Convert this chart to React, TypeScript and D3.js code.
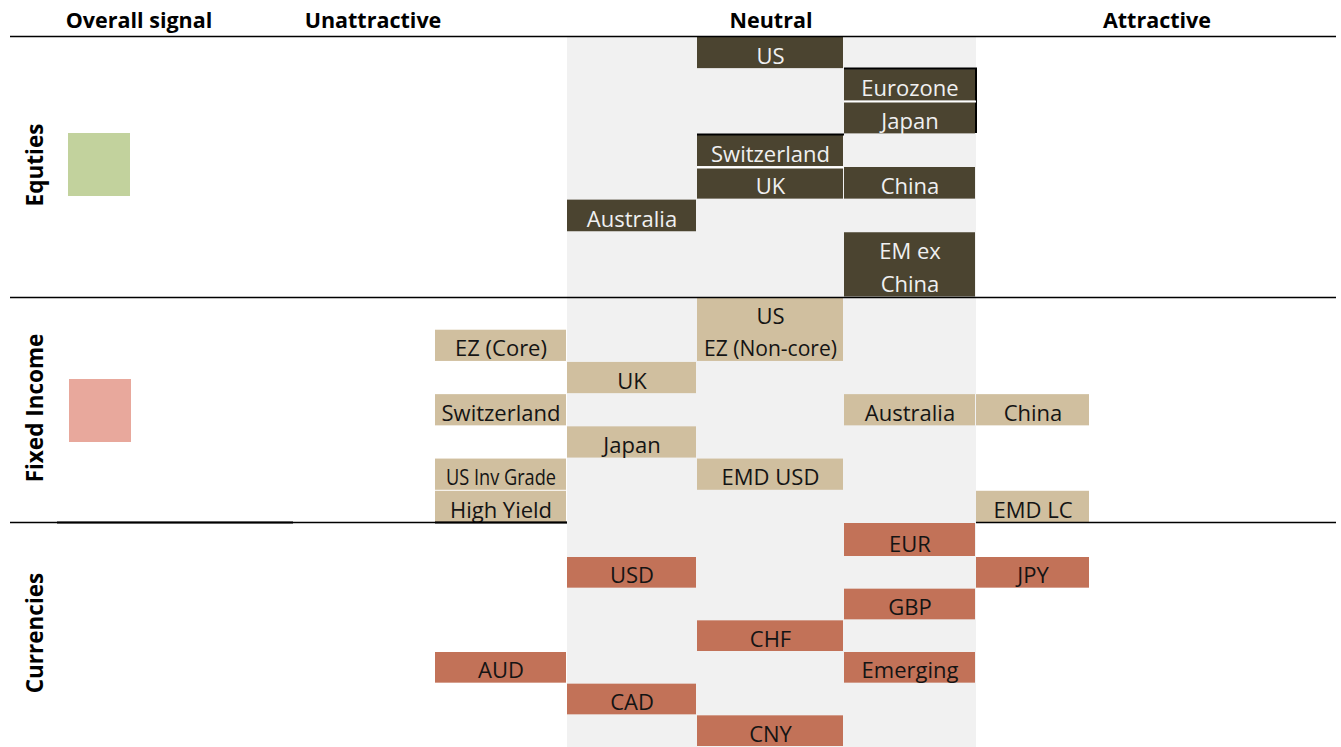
import React from "react";
import * as d3 from "d3";

// ---------- DATA ----------
const headers = ["Overall signal", "Unattractive", "Neutral", "Attractive"];
const sectionNames = ["Equties", "Fixed Income", "Currencies"];
const overallSignal = ["positive", "negative", "none"];

const equityLabels = ["US", "Eurozone", "Japan", "Switzerland", "UK", "China", "Australia", "EM ex|China"];
const equityCols = [2, 3, 3, 2, 2, 3, 1, 3];
const equityRows = [0, 1, 2, 3, 4, 4, 5, 6];
const equitySpans = [1, 1, 1, 1, 1, 1, 1, 2];

const fiLabels = ["US|EZ (Non-core)", "EZ (Core)", "UK", "Switzerland", "Australia", "China", "Japan", "US Inv Grade", "EMD USD", "High Yield", "EMD LC"];
const fiCols = [2, 0, 1, 0, 3, 4, 1, 0, 2, 0, 4];
const fiRows = [0, 1, 2, 3, 3, 3, 4, 5, 5, 6, 6];
const fiSpans = [2, 1, 1, 1, 1, 1, 1, 1, 1, 1, 1];

const fxLabels = ["EUR", "USD", "JPY", "GBP", "CHF", "AUD", "Emerging", "CAD", "CNY"];
const fxCols = [3, 1, 4, 3, 2, 0, 3, 1, 2];
const fxRows = [0, 1, 1, 2, 3, 4, 4, 5, 6];
const fxSpans = [1, 1, 1, 1, 1, 1, 1, 1, 1];

// ---------- LAYOUT ----------
const W = 1341;
const H = 747;
const colEdges = [435, 567, 697, 844, 976, 1090];
const sectionRowDomains = [
  [0, 8],
  [0, 7],
  [0, 1, 7],
];
const sectionRowRanges = [
  [36.5, 297.5],
  [297.5, 523],
  [523, 557, 747],
];
const sectionBounds = [
  [37, 297],
  [298, 522],
  [523, 747],
];
const boxFill = ["#4b4430", "#d0bf9f", "#c27258"];
const boxText = ["#f0f0f0", "#141414", "#141414"];
const signalColor: Record<string, string> = { positive: "#c2d29d", negative: "#e8a89c", none: "none" };
const FONT = "'Open Sans', 'Noto Sans', sans-serif";
const condensed: Record<string, number> = { "US Inv Grade": 110, "EZ (Non-core)": 133 };

type Item = { label: string; col: number; row: number; span: number };
const zip = (l: string[], c: number[], r: number[], s: number[]): Item[] =>
  l.map((label, i) => ({ label, col: c[i], row: r[i], span: s[i] }));

const sections = [
  zip(equityLabels, equityCols, equityRows, equitySpans),
  zip(fiLabels, fiCols, fiRows, fiSpans),
  zip(fxLabels, fxCols, fxRows, fxSpans),
];

export default function App() {
  const x = d3.scaleLinear().domain(d3.range(colEdges.length)).range(colEdges);
  const yScales = sectionRowDomains.map((dom, i) =>
    d3.scaleLinear().domain(dom).range(sectionRowRanges[i])
  );
  const headerX = [139, 373, 771, 1157];

  return (
    <svg width={W} height={H} style={{ display: "block", position: "absolute", left: 0, top: 0 }} fontFamily={FONT}>
      <rect x={0} y={0} width={W} height={H} fill="#ffffff" />
      {/* neutral band */}
      <rect x={x(1)} y={37} width={x(4) - x(1)} height={H - 37} fill="#f1f1f1" />

      {/* headers */}
      {headers.map((h, i) => (
        <text key={h} x={headerX[i]} y={28} textAnchor="middle" fontWeight={700} fontSize={21.5} fill="#000">
          {h}
        </text>
      ))}

      {/* boxes */}
      {sections.map((items, si) => {
        const y = yScales[si];
        return (
          <g key={si}>
            {items.map((it, k) => {
              const x0 = x(it.col);
              const x1 = x(it.col + 1);
              const y0 = y(it.row);
              const y1 = Math.min(y(it.row + it.span), H + 1);
              const lines = it.label.split("|");
              return (
                <g key={k}>
                  <rect x={x0} y={y0} width={x1 - x0 - 1} height={y1 - y0 - 1} fill={boxFill[si]} />
                  {lines.map((ln, li) => {
                    const yb = y(it.row + li + 1) - 5.5;
                    const tl = condensed[ln];
                    return (
                      <text
                        key={li}
                        x={(x0 + x1) / 2}
                        y={yb}
                        textAnchor="middle"
                        fontSize={22}
                        fill={boxText[si]}
                        {...(tl ? { textLength: tl, lengthAdjust: "spacingAndGlyphs" } : {})}
                      >
                        {ln}
                      </text>
                    );
                  })}
                </g>
              );
            })}
          </g>
        );
      })}

      {/* odd black borders in the source */}
      <line x1={844} x2={977} y1={68.5} y2={68.5} stroke="#000" strokeWidth={2} />
      <line x1={976} x2={976} y1={68} y2={133} stroke="#000" strokeWidth={2} />
      <line x1={697} x2={844} y1={134.5} y2={134.5} stroke="#000" strokeWidth={2} />
      <line x1={844} x2={976} y1={101.5} y2={101.5} stroke="#fff" strokeWidth={2} />
      <line x1={697} x2={844} y1={167.5} y2={167.5} stroke="#fff" strokeWidth={2} />

      {/* section labels and signals */}
      {sectionNames.map((name, i) => {
        const [a, b] = sectionBounds[i];
        const cy = (a + b) / 2;
        const sig = signalColor[overallSignal[i]];
        return (
          <g key={name}>
            <text
              transform={`translate(43,${cy - 2}) rotate(-90)`}
              textAnchor="middle"
              fontWeight={700}
              fontSize={22.5}
              fill="#000"
            >
              {name}
            </text>
            {sig !== "none" && <rect x={68 + i} y={cy - 34 + i * 3} width={62} height={63} fill={sig} />}
          </g>
        );
      })}

      {/* rules */}
      <line x1={10} x2={1336} y1={36.5} y2={36.5} stroke="#000" strokeWidth={1.3} />
      <line x1={10} x2={1336} y1={297.5} y2={297.5} stroke="#000" strokeWidth={1.3} />
      <line x1={10} x2={x(1)} y1={522.5} y2={522.5} stroke="#000" strokeWidth={1.3} />
      <line x1={x(4)} x2={1336} y1={522.5} y2={522.5} stroke="#000" strokeWidth={1.3} />
      <line x1={57} x2={293} y1={522.5} y2={522.5} stroke="#000" strokeWidth={2} />
      <line x1={x(0)} x2={x(1)} y1={522.5} y2={522.5} stroke="#000" strokeWidth={2} />
    </svg>
  );
}
